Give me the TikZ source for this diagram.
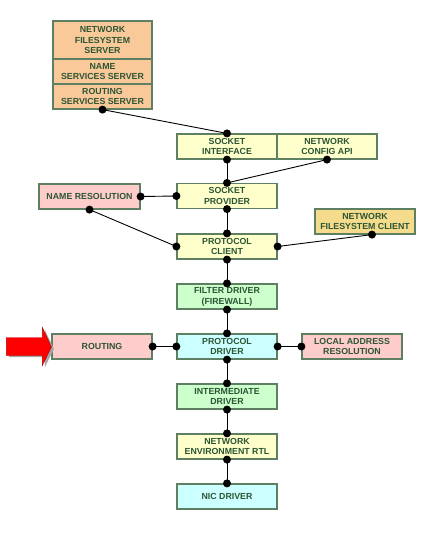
\documentclass[tikz,border=0pt]{standalone}
\usepackage{fontspec}
\setmainfont{Liberation Sans}
\definecolor{peach}{HTML}{FAC99A}
\definecolor{lyellow}{HTML}{FFFFCC}
\definecolor{lgreen}{HTML}{CCFFCC}
\definecolor{lcyan}{HTML}{CCFFFF}
\definecolor{lpink}{HTML}{FFCCCC}
\definecolor{gold}{HTML}{F5DC8C}
\definecolor{bord}{HTML}{5F7F62}
\definecolor{txt}{HTML}{2C5534}
\begin{document}
\begin{tikzpicture}[x=1pt,y=-1pt,
  box/.style={draw=bord, line width=1.2pt, minimum width=100pt, minimum height=25pt,
    inner sep=0pt, align=center, text=txt,
    font=\bfseries\fontsize{8.8}{10.8}\selectfont},
  dot/.style={circle, fill=black, inner sep=0pt, minimum size=8pt},
  link/.style={draw=black, line width=0.9pt}]
\useasboundingbox (0,0) rectangle (434,533);
% top stack
\node[box, fill=peach, minimum width=99pt, minimum height=38pt] (nfss) at (102.5,40) {NETWORK\\FILESYSTEM\\SERVER};
\node[box, fill=peach, minimum width=99pt] (nss) at (102.5,71.5) {NAME\\SERVICES SERVER};
\node[box, fill=peach, minimum width=99pt] (rss) at (102.5,96.5) {ROUTING\\SERVICES SERVER};
% column
\node[box, fill=lyellow] (si) at (227,146.5) {SOCKET\\INTERFACE};
\node[box, fill=lyellow] (nca) at (327,146.5) {NETWORK\\CONFIG API};
\node[box, fill=lyellow] (sp) at (227,196) {SOCKET\\PROVIDER};
\node[box, fill=lpink, minimum width=101pt] (nr) at (89.5,196.5) {NAME RESOLUTION};
\node[box, fill=lyellow] (pc) at (227,246.5) {PROTOCOL\\CLIENT};
\node[box, fill=gold] (nfc) at (365,221.5) {NETWORK\\FILESYSTEM CLIENT};
\node[box, fill=lgreen] (fd) at (227,296.5) {FILTER DRIVER\\(FIREWALL)};
\node[box, fill=lcyan] (pd) at (227,346.5) {PROTOCOL\\DRIVER};
\node[box, fill=lpink] (rt) at (102,346.5) {ROUTING};
\node[box, fill=lpink] (lar) at (352,346.5) {LOCAL ADDRESS\\RESOLUTION};
\node[box, fill=lgreen] (id) at (227,396.5) {INTERMEDIATE\\DRIVER};
\node[box, fill=lyellow] (ne) at (227,446.5) {NETWORK\\ENVIRONMENT RTL};
\node[box, fill=lcyan] (nic) at (227,496.5) {NIC DRIVER};
% connectors
\coordinate (nfcb) at ([xshift=7pt]nfc.south);
\draw[link] (rss.south) -- (si.north);
\draw[link] (si.south) -- (sp.north);
\draw[link] (nca.south) -- (sp.north);
\draw[link] (nr.east) -- (sp.west);
\draw[link] (nr.south) -- (pc.west);
\draw[link] (sp.south) -- (pc.north);
\draw[link] (pc.east) -- (nfcb);
\draw[link] (pc.south) -- (fd.north);
\draw[link] (fd.south) -- (pd.north);
\draw[link] (rt.east) -- (pd.west);
\draw[link] (pd.east) -- (lar.west);
\draw[link] (pd.south) -- (id.north);
\draw[link] (id.south) -- (ne.north);
\draw[link] (ne.south) -- (nic.north);
% dots
\foreach \p in {rss.south, si.north, si.south, nca.south, sp.north, sp.west, sp.south,
  nr.east, nr.south, pc.north, pc.west, pc.east, pc.south, nfcb, fd.north, fd.south,
  pd.north, pd.west, pd.east, pd.south, rt.east, lar.west, id.north, id.south,
  ne.north, ne.south, nic.north}
  \node[dot] at (\p) {};
% red arrow
\fill[gray!70] ([shift={(-44,-8)}]rt.west) ++(1.5,1.5) -- ++(36,0) -- ++(0,-10) -- ++(9,19) -- ++(-9,18) -- ++(0,-10) -- ++(-36,0) -- cycle;
\filldraw[fill=red, draw=red!70!black, line width=0.4pt] ([shift={(-45,-9)}]rt.west) -- ++(36,0) -- ++(0,-10) -- ++(9,19.5) -- ++(-9,18.5) -- ++(0,-10) -- ++(-36,0) -- cycle;
\end{tikzpicture}
\end{document}
